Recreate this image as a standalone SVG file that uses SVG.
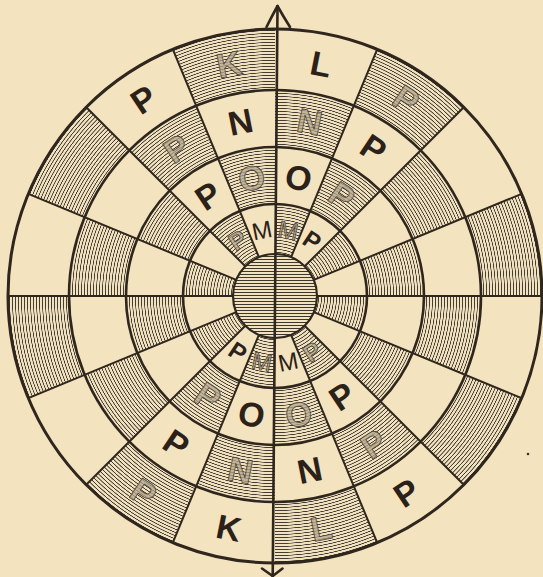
<svg xmlns="http://www.w3.org/2000/svg" xmlns:xlink="http://www.w3.org/1999/xlink" width="543" height="577" viewBox="0 0 543 577">
<defs>
<style>
.ring{stroke:#2f261d;fill:none;stroke-width:2.6}
.outer{stroke:#2f261d;fill:none;stroke-width:3}
.rad{stroke:#2f261d;stroke-width:2;fill:none}
.axis{stroke:#2f261d;stroke-width:2.6;fill:none;stroke-linecap:round;stroke-linejoin:round}
.b{font-family:"Liberation Sans","DejaVu Sans",sans-serif;font-weight:bold;font-size:34px;fill:#2b2119;text-anchor:middle}
.f{font-family:"Liberation Sans","DejaVu Sans",sans-serif;font-weight:bold;font-size:34px;fill:#b3a78e;fill-opacity:0.75;stroke:#4e4335;stroke-width:0.8;text-anchor:middle}
.sm{font-size:24px}
.mm{font-weight:normal}
.hatch{fill:none;stroke:url(#conc)}
</style>
<radialGradient id="conc" gradientUnits="userSpaceOnUse" cx="275" cy="296" fx="275" fy="296" r="3" spreadMethod="repeat">
<stop offset="0" stop-color="#f1e2c0"/>
<stop offset="0.32" stop-color="#f1e2c0"/>
<stop offset="0.47" stop-color="#453c31"/>
<stop offset="0.6" stop-color="#453c31"/>
<stop offset="0.76" stop-color="#f1e2c0"/>
<stop offset="1" stop-color="#f1e2c0"/>
</radialGradient>
<linearGradient id="horiz" gradientUnits="userSpaceOnUse" x1="0" y1="0" x2="0" y2="3" spreadMethod="repeat">
<stop offset="0" stop-color="#f1e2c0"/>
<stop offset="0.3" stop-color="#f1e2c0"/>
<stop offset="0.46" stop-color="#3e352b"/>
<stop offset="0.62" stop-color="#3e352b"/>
<stop offset="0.78" stop-color="#f1e2c0"/>
<stop offset="1" stop-color="#f1e2c0"/>
</linearGradient>
<path id="wedge" d="M275,296 L275,24 A272,272 0 0 1 379.09,44.70 Z"/>
<clipPath id="even">
<use xlink:href="#wedge"/>
<use xlink:href="#wedge" transform="rotate(45 275 296)"/>
<use xlink:href="#wedge" transform="rotate(90 275 296)"/>
<use xlink:href="#wedge" transform="rotate(135 275 296)"/>
<use xlink:href="#wedge" transform="rotate(180 275 296)"/>
<use xlink:href="#wedge" transform="rotate(225 275 296)"/>
<use xlink:href="#wedge" transform="rotate(270 275 296)"/>
<use xlink:href="#wedge" transform="rotate(315 275 296)"/>
</clipPath>
<clipPath id="odd">
<use xlink:href="#wedge" transform="rotate(22.5 275 296)"/>
<use xlink:href="#wedge" transform="rotate(67.5 275 296)"/>
<use xlink:href="#wedge" transform="rotate(112.5 275 296)"/>
<use xlink:href="#wedge" transform="rotate(157.5 275 296)"/>
<use xlink:href="#wedge" transform="rotate(202.5 275 296)"/>
<use xlink:href="#wedge" transform="rotate(247.5 275 296)"/>
<use xlink:href="#wedge" transform="rotate(292.5 275 296)"/>
<use xlink:href="#wedge" transform="rotate(337.5 275 296)"/>
</clipPath>
<line id="ray" x1="275" y1="254" x2="275" y2="29"/>
</defs>

<rect id="background" x="0" y="0" width="543" height="577" fill="#f3e3bf"/>

<g id="hatching">
<g clip-path="url(#even)">
<circle class="hatch" cx="275" cy="296" r="67" stroke-width="50"/>
<circle class="hatch" cx="275" cy="296" r="177.5" stroke-width="57"/>
</g>
<g clip-path="url(#odd)">
<circle class="hatch" cx="275" cy="296" r="120.5" stroke-width="57"/>
<circle class="hatch" cx="275" cy="296" r="236.5" stroke-width="61"/>
</g>
</g>

<g id="rings">
<circle class="ring" cx="275" cy="296" r="92"/>
<circle class="ring" cx="275" cy="296" r="149"/>
<circle class="ring" cx="275" cy="296" r="206"/>
<circle class="outer" cx="275" cy="296" r="267"/>
</g>

<g id="connectors" class="rad">
<use xlink:href="#ray" transform="rotate(22.5 275 296)"/>
<use xlink:href="#ray" transform="rotate(45 275 296)"/>
<use xlink:href="#ray" transform="rotate(67.5 275 296)"/>
<use xlink:href="#ray" transform="rotate(90 275 296)"/>
<use xlink:href="#ray" transform="rotate(112.5 275 296)"/>
<use xlink:href="#ray" transform="rotate(135 275 296)"/>
<use xlink:href="#ray" transform="rotate(157.5 275 296)"/>
<use xlink:href="#ray" transform="rotate(202.5 275 296)"/>
<use xlink:href="#ray" transform="rotate(225 275 296)"/>
<use xlink:href="#ray" transform="rotate(247.5 275 296)"/>
<use xlink:href="#ray" transform="rotate(270 275 296)"/>
<use xlink:href="#ray" transform="rotate(292.5 275 296)"/>
<use xlink:href="#ray" transform="rotate(315 275 296)"/>
<use xlink:href="#ray" transform="rotate(337.5 275 296)"/>
</g>

<g id="hub">
<circle cx="275" cy="296" r="42" fill="url(#horiz)" stroke="#2f261d" stroke-width="2.2"/>
</g>

<g id="axis" class="axis">
<line x1="277.5" y1="6" x2="272.7" y2="577"/>
<path d="M266.5,27 Q272,16 277.5,6 Q283,16 290,27"/>
<path d="M262,568.5 L272.7,576 L282.5,568.5"/>
</g>

<g id="ring-D">
<g id="D-s0" transform="translate(321.1,64) rotate(11.25)"><text class="b" y="12">L</text></g>
<g id="D-s1" transform="translate(406.4,99.4) rotate(33.75)"><text class="f" y="12">P</text></g>
<g id="D-s6" transform="translate(406.4,492.6) rotate(-33.75)"><text class="b" y="12">P</text></g>
<g id="D-s7" transform="translate(321.1,528) rotate(-11.25)"><text class="f" y="12">L</text></g>
<g id="D-s8" transform="translate(228.9,528) rotate(11.25)"><text class="b" y="12">K</text></g>
<g id="D-s9" transform="translate(143.6,492.6) rotate(33.75)"><text class="f" y="12">P</text></g>
<g id="D-s14" transform="translate(143.6,99.4) rotate(-33.75)"><text class="b" y="12">P</text></g>
<g id="D-s15" transform="translate(228.9,64) rotate(-11.25)"><text class="f" y="12">K</text></g>
</g>

<g id="ring-C">
<g id="C-s0" transform="translate(309.6,121.9) rotate(11.25)"><text class="f" y="12">N</text></g>
<g id="C-s1" transform="translate(373.6,148.4) rotate(33.75)"><text class="b" y="12">P</text></g>
<g id="C-s6" transform="translate(373.6,443.6) rotate(-33.75)"><text class="f" y="12">P</text></g>
<g id="C-s7" transform="translate(309.6,470.1) rotate(-11.25)"><text class="b" y="12">N</text></g>
<g id="C-s8" transform="translate(240.4,470.1) rotate(11.25)"><text class="f" y="12">N</text></g>
<g id="C-s9" transform="translate(176.4,443.6) rotate(33.75)"><text class="b" y="12">P</text></g>
<g id="C-s14" transform="translate(176.4,148.4) rotate(-33.75)"><text class="f" y="12">P</text></g>
<g id="C-s15" transform="translate(240.4,121.9) rotate(-11.25)"><text class="b" y="12">N</text></g>
</g>

<g id="ring-B">
<g id="B-s0" transform="translate(298.5,177.8) rotate(11.25)"><text class="b" y="12">O</text></g>
<g id="B-s1" transform="translate(341.9,195.8) rotate(33.75)"><text class="f" y="12">P</text></g>
<g id="B-s6" transform="translate(341.9,396.2) rotate(-33.75)"><text class="b" y="12">P</text></g>
<g id="B-s7" transform="translate(298.5,414.2) rotate(-11.25)"><text class="f" y="12">O</text></g>
<g id="B-s8" transform="translate(251.5,414.2) rotate(11.25)"><text class="b" y="12">O</text></g>
<g id="B-s9" transform="translate(208.1,396.2) rotate(33.75)"><text class="f" y="12">P</text></g>
<g id="B-s14" transform="translate(208.1,195.8) rotate(-33.75)"><text class="b" y="12">P</text></g>
<g id="B-s15" transform="translate(251.5,177.8) rotate(-11.25)"><text class="f" y="12">O</text></g>
</g>

<g id="ring-A">
<g id="A-s0" transform="translate(288.1,230.3) rotate(11.25)"><text class="f sm mm" y="8.5">M</text></g>
<g id="A-s1" transform="translate(312.2,240.3) rotate(33.75)"><text class="b sm" y="8.5">P</text></g>
<g id="A-s6" transform="translate(312.2,351.7) rotate(-33.75)"><text class="f sm" y="8.5">P</text></g>
<g id="A-s7" transform="translate(288.1,361.7) rotate(-11.25)"><text class="b sm mm" y="8.5">M</text></g>
<g id="A-s8" transform="translate(261.9,361.7) rotate(11.25)"><text class="f sm mm" y="8.5">M</text></g>
<g id="A-s9" transform="translate(237.8,351.7) rotate(33.75)"><text class="b sm" y="8.5">P</text></g>
<g id="A-s14" transform="translate(237.8,240.3) rotate(-33.75)"><text class="f sm" y="8.5">P</text></g>
<g id="A-s15" transform="translate(261.9,230.3) rotate(-11.25)"><text class="b sm mm" y="8.5">M</text></g>
</g>

<circle id="speck" cx="528" cy="454" r="1.3" fill="#3a3026"/>
</svg>
